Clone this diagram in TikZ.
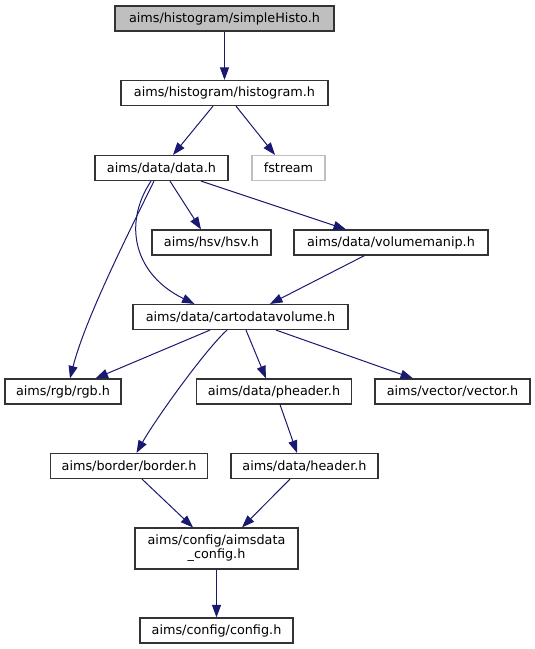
\documentclass[tikz,border=0pt]{standalone}
\usepackage{fontspec}
\setmainfont{DejaVu Sans}
\usetikzlibrary{arrows.meta}
\definecolor{edgeblue}{HTML}{191970}
\definecolor{boxborder}{HTML}{333333}
\definecolor{grayfill}{HTML}{BFBFBF}
\definecolor{lightborder}{HTML}{BFBFBF}
\begin{document}
\begin{tikzpicture}[x=1pt,y=-1pt,
  box/.style={draw=boxborder, line width=1.15pt, fill=white, inner sep=0pt,
    minimum height=25pt, font=\fontsize{12.8}{13.8}\selectfont, align=center, text=black},
  edge/.style={draw=edgeblue, line width=1pt, -{Triangle[length=12.5pt,width=9pt]}}]
\useasboundingbox (0,0) rectangle (535,649);

\node[box, fill=grayfill, minimum width=219pt] (n1) at (224.5,18.5) {aims/histogram/simpleHisto.h};
\node[box, minimum width=207pt] (n2) at (224.5,93) {aims/histogram/histogram.h};
\node[box, minimum width=133pt] (n3) at (161.5,168) {aims/data/data.h};
\node[box, draw=lightborder, minimum width=73pt] (n4) at (288.5,168) {fstream};
\node[box, minimum width=119pt] (n5) at (211.5,242.5) {aims/hsv/hsv.h};
\node[box, minimum width=194pt] (n6) at (391,242.5) {aims/data/volumemanip.h};
\node[box, minimum width=215pt] (n7) at (240.5,317) {aims/data/cartodatavolume.h};
\node[box, minimum width=116pt] (n8) at (63,391.5) {aims/rgb/rgb.h};
\node[box, minimum width=155pt] (n9) at (274,391.5) {aims/data/pheader.h};
\node[box, minimum width=155pt] (n10) at (452.5,391.5) {aims/vector/vector.h};
\node[box, minimum width=157pt] (n11) at (129,466) {aims/border/border.h};
\node[box, minimum width=147pt] (n12) at (304.5,466) {aims/data/header.h};
\node[box, minimum width=163pt, minimum height=41pt] (n13) at (216.5,548.5) {aims/config/aimsdata\\\_config.h};
\node[box, minimum width=153pt] (n14) at (216.5,630.5) {aims/config/config.h};

\draw[edge] (n1.south) -- (n2.north);
\draw[edge] ([xshift=-11.5pt]n2.south) -- ([xshift=11.5pt]n3.north);
\draw[edge] ([xshift=11.5pt]n2.south) -- ([xshift=-13.5pt]n4.north);
\draw[edge] ([xshift=8.5pt]n3.south) -- ([xshift=-10.5pt]n5.north);
\draw[edge] ([xshift=39.5pt]n3.south) -- ([xshift=-45pt]n6.north);
\draw[edge] ([xshift=-10.5pt]n3.south) .. controls (122,225) and (135,275) .. ([xshift=-46pt]n7.north);
\draw[edge] ([xshift=-7.5pt]n3.south) .. controls (125,240) and (85,320) .. ([xshift=7pt]n8.north);
\draw[edge] ([xshift=-26.5pt]n6.south) -- ([xshift=29.5pt]n7.north);
\draw[edge] ([xshift=-30.5pt]n7.south) -- ([xshift=32.5pt]n8.north);
\draw[edge] ([xshift=5.5pt]n7.south) -- ([xshift=-8pt]n9.north);
\draw[edge] ([xshift=35.5pt]n7.south) -- ([xshift=-39.5pt]n10.north);
\draw[edge] ([xshift=-13.5pt]n7.south) .. controls (205,350) and (155,420) .. ([xshift=7.5pt]n11.north);
\draw[edge] ([xshift=6pt]n9.south) -- ([xshift=-7.5pt]n12.north);
\draw[edge] ([xshift=13pt]n11.south) -- ([xshift=-23.5pt]n13.north);
\draw[edge] ([xshift=-14.5pt]n12.south) -- ([xshift=25.5pt]n13.north);
\draw[edge] (n13.south) -- (n14.north);
\end{tikzpicture}
\end{document}
